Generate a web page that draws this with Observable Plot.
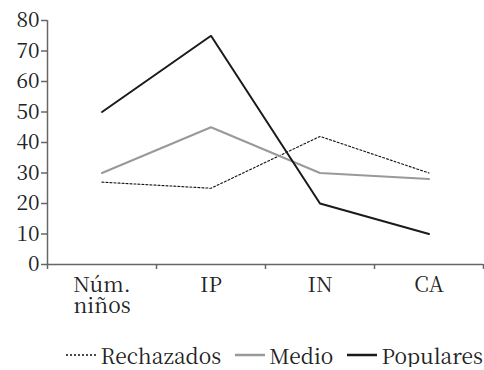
<!DOCTYPE html>
<html>
<head>
<meta charset="utf-8">
<script src="https://cdn.jsdelivr.net/npm/d3@7"></script>
<script src="https://cdn.jsdelivr.net/npm/@observablehq/plot@0.6"></script>
<style>
  html, body { margin: 0; padding: 0; background: #fff; }
  #chart { width: 484px; font-family: 'Noto Serif CJK SC'; }
  .legend { display: flex; justify-content: flex-end; align-items: center; font-family: 'Noto Serif CJK SC'; font-size: 21px; line-height: 24px; color: #222; margin-top: 23px; padding-right: 1px; }
  .legend .item { display: flex; align-items: center; margin-left: 14px; }
  .legend svg { margin-right: 4px; }
</style>
</head>
<body>
<div id="chart"></div>
<script>
const categories = ["Núm.\nniños", "IP", "IN", "CA"];
const seriesNames = ["Rechazados", "Medio", "Populares"];
const rechazados = [27, 25, 42, 30];
const medio = [30, 45, 30, 28];
const populares = [50, 75, 20, 10];
const yTicks = [0, 10, 20, 30, 40, 50, 60, 70, 80];

const styles = {
  Rechazados: {stroke: "#111", strokeWidth: 1.1, strokeDasharray: "2,2"},
  Medio: {stroke: "#999", strokeWidth: 2, strokeDasharray: null},
  Populares: {stroke: "#1a1a1a", strokeWidth: 2, strokeDasharray: null}
};

const valuesBySeries = {Rechazados: rechazados, Medio: medio, Populares: populares};
const data = seriesNames.flatMap(s => valuesBySeries[s].map((v, i) => ({series: s, pos: i + 0.5, value: v})));
const boundaries = d3.range(categories.length + 1);
const centers = categories.map((c, i) => ({label: c, pos: i + 0.5}));

const lineMarks = seriesNames.map(s => Plot.line(data.filter(d => d.series === s), {
  x: "pos", y: "value",
  stroke: styles[s].stroke, strokeWidth: styles[s].strokeWidth,
  strokeDasharray: styles[s].strokeDasharray, strokeLinejoin: "miter"
}));

const FONT = "Noto Serif CJK SC";

const plot = Plot.plot({
  width: 484,
  height: 320,
  marginLeft: 47,
  marginRight: 1,
  marginTop: 20,
  marginBottom: 56,
  style: {fontFamily: FONT, fontSize: "21px", color: "#222", background: "#fff"},
  x: {domain: [0, categories.length], axis: null},
  y: {domain: [0, 80], axis: null},
  marks: [
    Plot.ruleY([0], {stroke: "#666", strokeWidth: 1.5}),
    Plot.ruleX([0], {stroke: "#666", strokeWidth: 1.5}),
    Plot.axisY({ticks: yTicks, tickSize: 6, tickPadding: 2, stroke: "#666", strokeWidth: 1.5, label: null, fontSize: 21, fill: "#222", fontFamily: FONT}),
    Plot.axisX({ticks: boundaries, tickSize: 5, tickFormat: () => "", stroke: "#666", strokeWidth: 1.5, label: null}),
    Plot.text(centers, {x: "pos", y: 0, text: "label", dy: 13, lineHeight: 1.0, fontSize: 21, fontFamily: FONT, fill: "#222", textAnchor: "middle", lineAnchor: "top"}),
    ...lineMarks
  ]
});
document.getElementById("chart").appendChild(plot);

const legend = document.createElement("div");
legend.className = "legend";
seriesNames.forEach(s => {
  const item = document.createElement("div");
  item.className = "item";
  const st = styles[s];
  item.innerHTML = `<svg width="30" height="10"><line x1="0" x2="30" y1="5" y2="5" stroke="${st.stroke}" stroke-width="${st.strokeWidth + 0.5}" ${st.strokeDasharray ? `stroke-dasharray="${st.strokeDasharray}"` : ""}/></svg><span>${s}</span>`;
  legend.appendChild(item);
});
document.getElementById("chart").appendChild(legend);
</script>
</body>
</html>
